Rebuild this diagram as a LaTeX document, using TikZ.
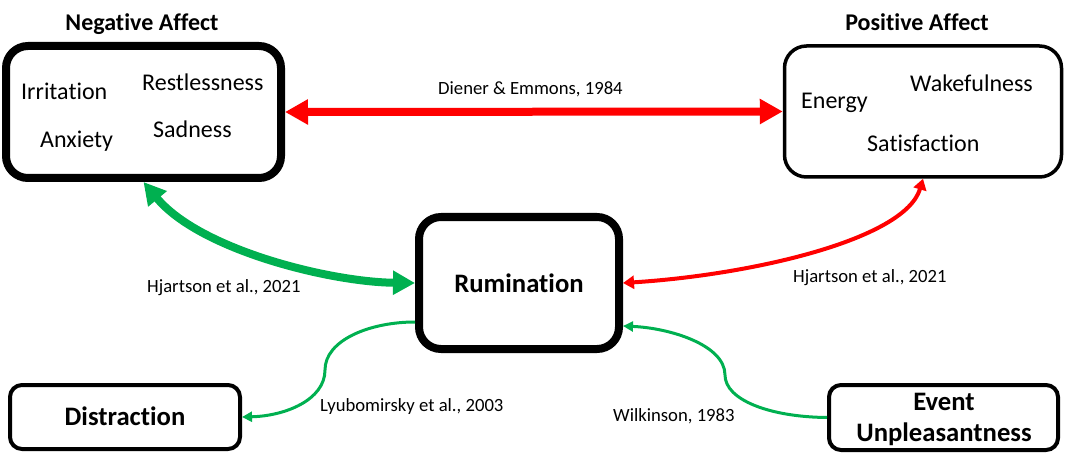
\documentclass[tikz,border=0pt]{standalone}
\usepackage{fontspec}
\setmainfont{Carlito}[Ligatures={NoCommon}]
\usetikzlibrary{arrows.meta}
\definecolor{ogreen}{RGB}{0,176,80}
\definecolor{ored}{RGB}{255,0,0}
\begin{document}
\begin{tikzpicture}[x=1pt,y=-1pt,
  bigbox/.style={draw,rounded corners=22pt,line width=#1,inner sep=0pt},
  smallbox/.style={draw,rounded corners=12pt,line width=4pt,inner sep=0pt},
  item/.style={anchor=base west,inner sep=0pt,font=\fontsize{24}{29}\selectfont},
  title/.style={anchor=base,inner sep=0pt,font=\fontsize{24}{29}\selectfont\bfseries},
  cite/.style={anchor=base west,inner sep=0pt,font=\fontsize{18.67}{22}\selectfont},
  boxtext/.style={font=\fontsize{26.67}{31}\selectfont\bfseries,align=center},
  thickred/.style={ored,line width=8pt,{Triangle[length=23pt,width=24pt]}-{Triangle[length=23pt,width=24pt]}},
  thickgreen/.style={ogreen,line width=8pt,{Triangle[length=22pt,width=23pt]}-{Triangle[length=22pt,width=23pt]}},
  thinred/.style={ored,line width=4pt,{Triangle[length=11pt,width=13pt]}-{Triangle[length=11pt,width=13pt]}},
  thingreen/.style={ogreen,line width=3pt,-{Triangle[length=10pt,width=10pt]}}
]
\useasboundingbox (0,0) rectangle (1065,465);

% boxes
\node[bigbox=8pt,minimum width=275pt,minimum height=132pt] (neg) at (143.5,112) {};
\node[bigbox=3.5pt,minimum width=277pt,minimum height=131pt] (pos) at (923,111.5) {};
\node[bigbox=8pt,minimum width=200pt,minimum height=132pt] (rum) at (519,283) {};
\node[smallbox,minimum width=230pt,minimum height=64pt] (dis) at (125,417) {};
\node[smallbox,minimum width=229pt,minimum height=65pt] (ev) at (943.5,417.5) {};

% titles and box texts
\node[title] (negt) at (142,31) {Negative Affect};
\node[title] (post) at (917,31) {Positive Affect};
\node[item] (irr) at (21,100) {Irritation};
\node[item] (res) at (142,91) {Restlessness};
\node[item] (anx) at (40,148) {Anxiety};
\node[item] (sad) at (153,138) {Sadness};
\node[item] (ene) at (801,109) {Energy};
\node[item] (wak) at (910,92) {Wakefulness};
\node[item] (sat) at (867,152) {Satisfaction};
\node[boxtext] (rumt) at (519,283) {Rumination};
\node[boxtext] (dist) at (125,416) {Distraction};
\node[boxtext] (evt) at (944,419) {Event\\Unpleasantness};

% citation labels
\node[cite] (c1) at (438,95) {Diener \& Emmons, 1984};
\node[cite] (c2) at (147,292) {Hjartson et al., 2021};
\node[cite] (c3) at (793,282) {Hjartson et al., 2021};
\node[cite] (c4) at (320,411) {Lyubomirsky et al., 2003};
\node[cite] (c5) at (613,421) {Wilkinson, 1983};

% connectors
\draw[thickred] (neg.east) -- (pos.west);
\draw[thickgreen] (neg.south) .. controls (200,250) and (330,282) .. (rum.west);
\draw[thinred] (rum.east) .. controls (750,275) and (905,240) .. (pos.south);
\draw[thingreen] ([yshift=-39pt]rum.west) .. controls (370,322) and (325,340) .. (325,370)
   .. controls (325,400) and (285,416) .. (dis.east);
\draw[thingreen] (ev.west) .. controls (770,417) and (725,400) .. (725,375)
   .. controls (725,345) and (670,328) .. ([yshift=-43pt]rum.east);
\end{tikzpicture}
\end{document}
